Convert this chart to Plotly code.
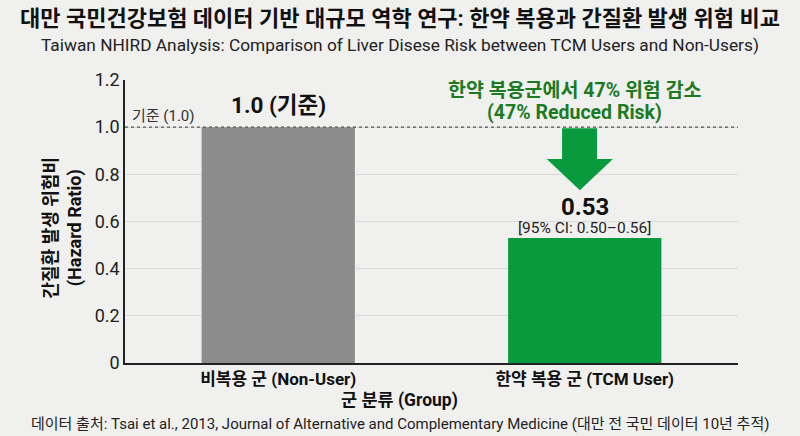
import plotly.graph_objects as go

# 데이터
groups = ["비복용 군 (Non-User)", "한약 복용 군 (TCM User)"]
hazard_ratio = [1.0, 0.53]
ci_low = 0.50
ci_high = 0.56
y_ticks = [0, 0.2, 0.4, 0.6, 0.8, 1.0, 1.2]
y_tick_labels = ["0", "0.2", "0.4", "0.6", "0.8", "1.0", "1.2"]
bar_colors = ["#8c8c8c", "#0a9a3e"]

FONT = "Roboto, Noto Sans CJK KR, sans-serif"
GREEN_TXT = "#1b7a22"
BG = "#f0f0ef"

fig = go.Figure()

fig.add_trace(go.Bar(
    x=groups,
    y=hazard_ratio,
    marker=dict(color=bar_colors, line_width=0),
    width=0.5,
    hoverinfo="x+y",
    showlegend=False
))

# 기준선 (1.0)
fig.add_hline(y=1.0, line=dict(color="#555555", width=1.2, dash="dot"), layer="above")

# 감소 화살표
fig.add_shape(
    type="path",
    xref="paper", yref="y",
    path=("M 0.713 0.995 L 0.770 0.995 L 0.770 0.865 L 0.796 0.865 "
          "L 0.742 0.733 L 0.688 0.865 L 0.713 0.865 Z"),
    fillcolor="#0a9a3e", line_width=0, layer="above"
)


def note(text, size, color="#111111", **kw):
    d = dict(text=text, showarrow=False, xanchor="center", yanchor="middle",
             font=dict(size=size, color=color))
    d.update(kw)
    return d


annotations = [
    # 제목
    note("<b>대만 국민건강보험 데이터 기반 대규모 역학 연구: 한약 복용과 간질환 발생 위험 비교</b>", 22,
         xref="paper", yref="paper", x=0.4486, y=1.219),
    note("Taiwan NHIRD Analysis: Comparison of Liver Disese Risk between TCM Users and Non-Users)", 17.3,
         "#222222", xref="paper", yref="paper", x=0.4486, y=1.124),
    # 축 제목
    note("<b>간질환 발생 위험비<br>(Hazard Ratio)</b>", 18, textangle=-90,
         xref="paper", yref="paper", x=-0.102, y=0.477),
    note("<b>군 분류 (Group)</b>", 17.5, xref="paper", yref="paper", x=0.4486, y=-0.134),
    # 막대 라벨
    note(f"<b>{hazard_ratio[0]:.1f} (기준)</b>", 22.5, x=groups[0], y=hazard_ratio[0], yshift=22),
    note(f"<b>{hazard_ratio[1]:.2f}</b>", 24, x=groups[1], y=hazard_ratio[1], yshift=31),
    note(f"[95% CI: {ci_low:.2f}–{ci_high:.2f}]", 15.5, "#222222",
         x=groups[1], y=hazard_ratio[1], yshift=10),
    note("기준 (1.0)", 15, "#333333", xref="paper", x=0.008, xanchor="left", y=1.0, yshift=11),
    # 강조 문구
    note("<b>한약 복용군에서 47% 위험 감소</b>", 19.5, GREEN_TXT,
         xref="paper", x=0.734, y=1.0, yshift=37),
    note("<b>(47% Reduced Risk)</b>", 19.5, GREEN_TXT,
         xref="paper", x=0.734, y=1.0, yshift=15),
    # 출처
    note("데이터 출처: Tsai et al., 2013, Journal of Alternative and Complementary Medicine (대만 전 국민 데이터 10년 추적)",
         15, "#222222", xref="paper", yref="paper", x=0.4486, y=-0.215),
]

fig.update_layout(
    width=800, height=436,
    margin=dict(l=125, r=62, t=80, b=73),
    paper_bgcolor=BG,
    plot_bgcolor=BG,
    font=dict(family=FONT, color="#222222"),
    bargap=0.5,
    annotations=annotations,
    xaxis=dict(
        showline=True, linecolor="#222222", linewidth=1.5,
        tickfont=dict(size=17, color="#111111"),
        ticks="",
        tickprefix="<b>", ticksuffix="</b>",
    ),
    yaxis=dict(
        range=[0, 1.2], tickvals=y_ticks, ticktext=y_tick_labels,
        showline=True, linecolor="#222222", linewidth=1.5,
        gridcolor="#d9d9d9", gridwidth=1,
        zeroline=False,
        tickfont=dict(size=18, color="#222222"),
    ),
)

fig.write_html("out.html", config={"displayModeBar": False},
               post_script=f"document.body.style.margin='0';document.body.style.background='{BG}';")
